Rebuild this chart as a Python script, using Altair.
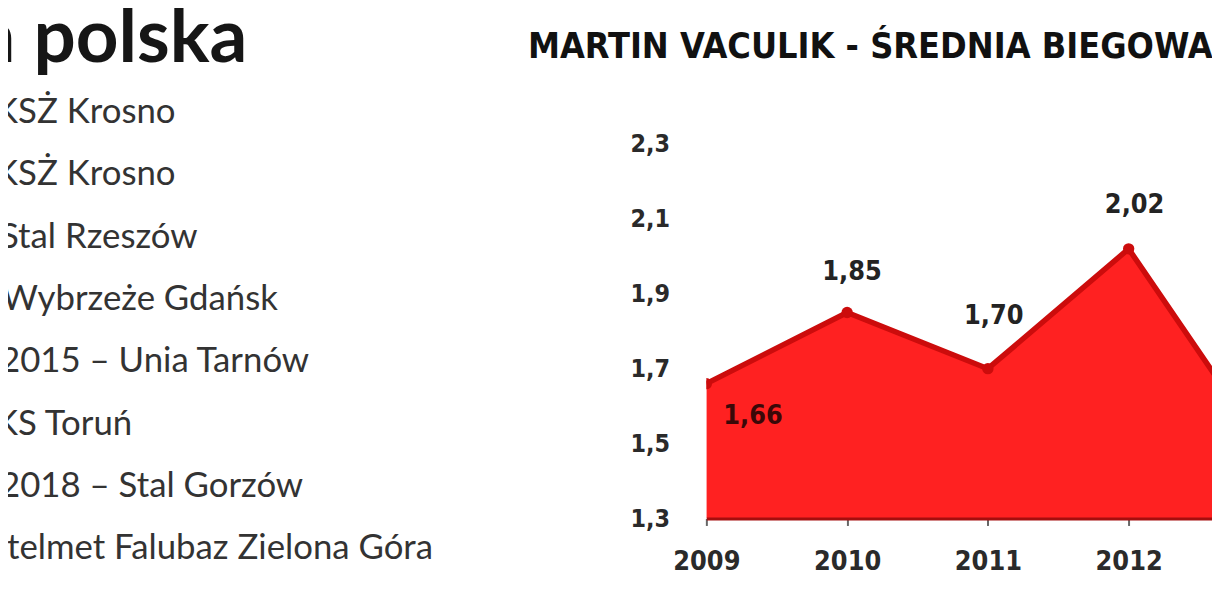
import altair as alt
import pandas as pd

# ---------------- data ----------------
years = [2009, 2010, 2011, 2012, 2013]
averages = [1.66, 1.85, 1.70, 2.02, 1.47]

y_ticks = [1.3, 1.5, 1.7, 1.9, 2.1, 2.3]
x_ticks = [2009, 2010, 2011, 2012]

chart_title = ["MARTIN VACULIK - ŚREDNIA BIEGOWA"]
side_title = ["Kariera polska"]
career_lines = [
    "KSŻ Krosno",
    "KSŻ Krosno",
    "Stal Rzeszów",
    "Wybrzeże Gdańsk",
    "2015 – Unia Tarnów",
    "KS Toruń",
    "2018 – Stal Gorzów",
    "telmet Falubaz Zielona Góra",
]

# ---------------- layout / style ----------------
label_dx = [47, 5, 6, 6, 0]        # label offsets in px
label_dy = [33, -41, -53, -44, -41]
list_x = [-5, -5, 0, 2, 0, -5, 0, 7]  # page x where each visible line starts

PLOT_W, PLOT_H = 509, 377
PAD_L, PAD_T, PAD_B = 703, 135, 58
ORIGIN_X, ORIGIN_Y = PAD_L + 8, PAD_T + 8
Y_MIN, Y_MAX = 1.3, 2.3
PX_PER_YEAR = 141.7
PX_PER_UNIT = PLOT_H / (Y_MAX - Y_MIN)

FILL = "#ff2121"
LINE = "#cc0c0c"
BASE = "#a50e0e"
NUM_FONT = "DejaVu Sans Condensed"
TITLE_FONT = "DejaVu Sans Condensed"

main = pd.DataFrame({"rok": years, "srednia": averages,
                     "ldx": label_dx, "ldy": label_dy})
main["etykieta"] = [f"{v:.2f}".replace(".", ",") for v in averages]
main["lx"] = main["rok"] + main["ldx"] / PX_PER_YEAR
main["ly"] = main["srednia"] - main["ldy"] / PX_PER_UNIT

xscale = alt.Scale(domain=[x_ticks[0], x_ticks[0] + PLOT_W / PX_PER_YEAR],
                   nice=False, zero=False)
yscale = alt.Scale(domain=[Y_MIN, Y_MAX], nice=False, zero=False)

base = alt.Chart(main)

area = base.mark_area(color=FILL, clip=True, opacity=1).encode(
    x=alt.X("rok:Q", scale=xscale, axis=alt.Axis(
        values=x_ticks, format="d", title=None, grid=False,
        domainColor=BASE, domainWidth=3, tickColor="#666666", tickSize=7,
        tickWidth=2, labelFont=NUM_FONT, labelFontSize=27,
        labelFontWeight="bold", labelColor="#2a2a2a", labelPadding=23,
        labelFlush=False, zindex=1)),
    y=alt.Y("srednia:Q", scale=yscale, axis=alt.Axis(
        values=y_ticks, title=None, grid=False, domain=False, ticks=False,
        labelPadding=37, labelFont=NUM_FONT, labelFontSize=25,
        labelFontWeight="bold", labelColor="#2a2a2a",
        labelExpr="replace(format(datum.value, '.1f'), '.', ',')")),
)

line = base.mark_line(color=LINE, strokeWidth=5.5, clip=True).encode(
    x=alt.X("rok:Q", scale=xscale), y=alt.Y("srednia:Q", scale=yscale))

pts = base.mark_circle(color=LINE, size=130, opacity=1, clip=True).encode(
    x=alt.X("rok:Q", scale=xscale), y=alt.Y("srednia:Q", scale=yscale))

labels = base.mark_text(font=NUM_FONT, fontSize=27, fontWeight="bold",
                        baseline="middle", align="center", clip=True).encode(
    x=alt.X("lx:Q", scale=xscale), y=alt.Y("ly:Q", scale=yscale),
    text="etykieta:N",
    color=alt.condition(alt.datum.ldy > 0, alt.value("#3a0808"),
                        alt.value("#232323")),
)

plot = alt.layer(area, line, pts, labels)

career = pd.DataFrame({"tekst": career_lines,
                       "i": list(range(len(career_lines))),
                       "sx": list_x})
career_layer = alt.Chart(career).transform_calculate(
    py=f"122 - {ORIGIN_Y} + datum.i * 62.7",
    px=f"datum.sx - {ORIGIN_X}",
).mark_text(align="left", baseline="alphabetic", font="Lato", fontSize=35,
            color="#333333").encode(
    x=alt.X("px:Q", scale=None, axis=None),
    y=alt.Y("py:Q", scale=None, axis=None),
    text="tekst:N",
)

side_layer = alt.Chart(pd.DataFrame({"t": side_title})).mark_text(
    align="right", baseline="alphabetic", font="Lato", fontSize=75,
    fontWeight="bold", color="#161616").encode(
    x=alt.value(249 - ORIGIN_X), y=alt.value(60 - ORIGIN_Y), text="t:N")

title_layer = alt.Chart(pd.DataFrame({"t": chart_title})).mark_text(
    align="center", baseline="alphabetic", font=TITLE_FONT, fontSize=36,
    fontWeight="bold", color="#111111").encode(
    x=alt.value(876 - ORIGIN_X), y=alt.value(56 - ORIGIN_Y), text="t:N")

chart = alt.layer(plot, career_layer, side_layer, title_layer).resolve_scale(
    x="independent", y="independent"
).properties(
    width=PLOT_W, height=PLOT_H,
    autosize=alt.AutoSizeParams(type="none"),
    padding={"left": PAD_L, "top": PAD_T, "right": 0, "bottom": PAD_B},
    background="white",
).configure_view(stroke=None)

chart.save("out.html", embed_options={"renderer": "svg", "actions": False})
